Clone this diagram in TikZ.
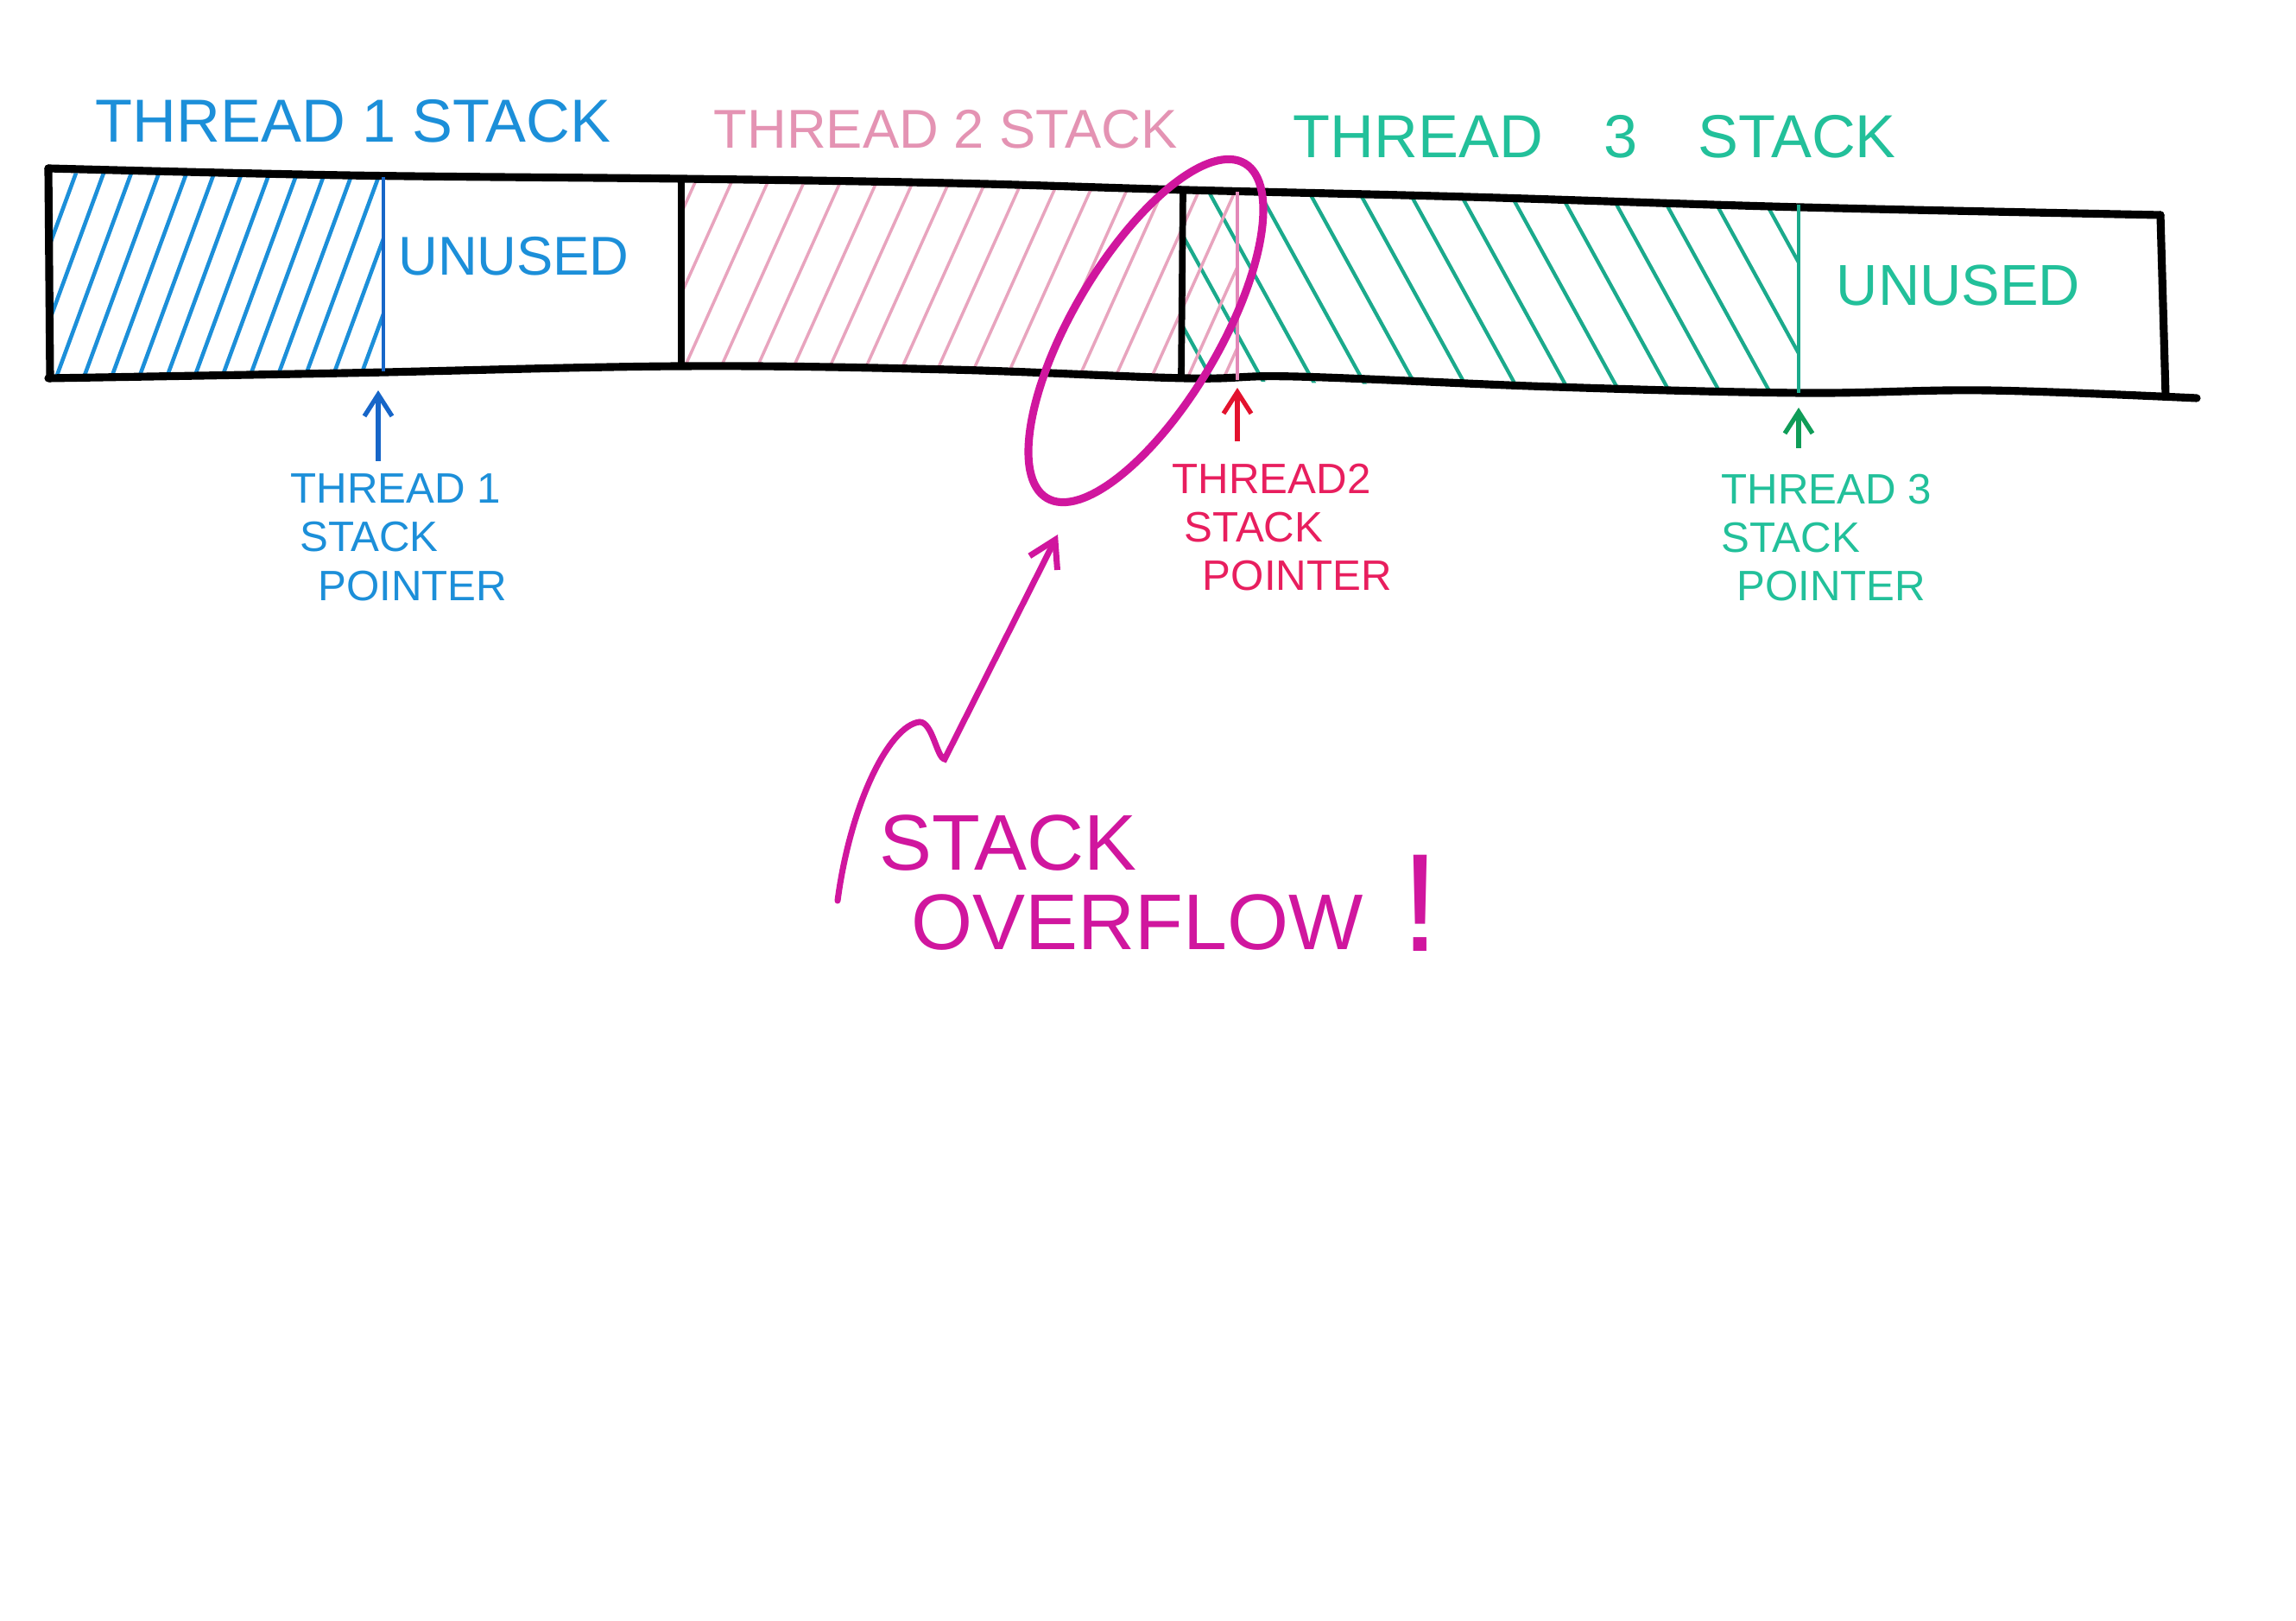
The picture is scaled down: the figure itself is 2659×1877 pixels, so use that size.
\documentclass[tikz,border=0pt]{standalone}
\usepackage{fontspec}
\setmainfont{Liberation Sans}
\usetikzlibrary{arrows.meta}
\definecolor{tblue}{HTML}{1C8FD9}
\definecolor{tbluedk}{HTML}{1766C8}
\definecolor{tpink}{HTML}{E8A4BE}
\definecolor{tpinktxt}{HTML}{E493B3}
\definecolor{tteal}{HTML}{1BAA8C}
\definecolor{ttealtxt}{HTML}{22C09A}
\definecolor{tred}{HTML}{E3122E}
\definecolor{tredtxt}{HTML}{E81E5E}
\definecolor{tgreen}{HTML}{0F9D58}
\definecolor{tmag}{HTML}{D0169E}
\begin{document}
\begin{tikzpicture}[x=0.01cm,y=-0.01cm,
  bar/.style={black, line width=2.6pt, line cap=round, line join=round},
  divider/.style={black, line width=2.2pt},
  ptr/.style={line width=1.5pt, -{Straight Barb[length=0.25cm,width=0.32cm]}},
  lbl/.style={inner sep=0pt, align=left, font=\fontsize{14}{16}\selectfont},
  ttl/.style={inner sep=0pt, anchor=west},
  big/.style={inner sep=0pt, anchor=base west, text=tmag, font=\fontsize{26}{26}\selectfont}]
\useasboundingbox (0,0) rectangle (2659,1877);
\fill[white] (0,0) rectangle (2659,1877);

% hatching: thread 1
\begin{scope}
\clip (60,200) -- (444,205) -- (444,432) -- (60,436) -- cycle;
\foreach \x in {0,32,...,480} \draw[tblue, line width=1.3pt] (\x,440) -- (\x+90,195);
\end{scope}
% hatching: thread 3
\begin{scope}
\clip (1372,220) -- (2083,237) -- (2083,456) -- (1372,440) -- cycle;
\foreach \x in {1280,1338,...,2083} \draw[tteal, line width=1.2pt] (\x,215) -- (\x+135,460);
\end{scope}
% hatching: thread 2 (overflowing)
\begin{scope}
\clip (792,208) -- (1433,222) -- (1433,440) -- (792,425) -- cycle;
\foreach \x in {700,742,...,1433} \draw[tpink, line width=1pt] (\x,445) -- (\x+110,200);
\end{scope}

% bar outline
\draw[bar] plot[smooth, tension=0.6] coordinates {(56,195) (400,203) (789,207) (1100,212) (1374,220) (1700,228) (2086,240) (2502,249)};
\draw[bar] plot[smooth, tension=0.6] coordinates {(56,438) (400,432) (789,424) (1100,428) (1374,438) (1500,436) (1800,448) (2086,455) (2300,452) (2544,461)};
\draw[bar] (56,195) -- (58,438);
\draw[bar] (2502,249) -- (2508,458);
\draw[divider] (789,207) -- (789,424);
\draw[divider] (1370,220) -- (1368,438);

% stack pointer lines
\draw[tbluedk, line width=1.2pt] (444,205) -- (444,430);
\draw[tteal, line width=1.2pt] (2083,237) -- (2083,455);
\draw[tpink!80!tmag, line width=1pt] (1433,222) -- (1433,440);

% titles
\node[ttl, text=tblue, font=\fontsize{20}{24}\selectfont] (title1) at (110,140) {THREAD 1 STACK};
\node[ttl, text=tpinktxt, font=\fontsize{18}{22}\selectfont] (title2) at (826,150) {THREAD 2 STACK};
\node[ttl, text=ttealtxt, font=\fontsize{20}{24}\selectfont] (title3) at (1497,158) {THREAD\quad 3\quad STACK};

% unused
\node[inner sep=0pt, text=tblue, font=\fontsize{18}{22}\selectfont] (unused1) at (595,297) {UNUSED};
\node[inner sep=0pt, text=ttealtxt, font=\fontsize{19}{22}\selectfont] (unused3) at (2268,331) {UNUSED};

% stack pointer labels
\node[lbl, anchor=north west, text=tblue] (sp1lab) at (336,548) {THREAD 1\\\hspace{3pt}STACK\\\hspace{9pt}POINTER};
\node[lbl, anchor=north west, text=tredtxt] (sp2lab) at (1357,536) {THREAD2\\\hspace{4pt}STACK\\\hspace{10pt}POINTER};
\node[lbl, anchor=north west, text=ttealtxt] (sp3lab) at (1993,548) {THREAD 3\\STACK\\\hspace{5pt}POINTER};

\coordinate (sp1) at (438,452);
\coordinate (sp2) at (1433,449);
\coordinate (sp3) at (2083,472);
\draw[ptr, tbluedk, shorten <=0.14cm] (sp1lab.north -| sp1) -- (sp1);
\draw[ptr, tred, shorten <=0.25cm] (sp2lab.north -| sp2) -- (sp2);
\draw[ptr, tgreen, shorten <=0.29cm] (sp3lab.north -| sp3) -- (sp3);

% overflow ellipse
\coordinate (ell) at (1327,383);
\draw[tmag, line width=2.6pt, rotate around={59.4:(ell)}] (ell) ellipse [x radius=2.25cm, y radius=0.85cm];

% overflow label
\node[big] (ovstack) at (1018,1008) {STACK};
\node[big] (ovword) at (1055,1100) {OVERFLOW};
\node[inner sep=0pt, anchor=base west, text=tmag, font=\fontsize{46}{46}\selectfont] (excl) at (1622,1102) {!};

\coordinate (ov0) at (970,1043);
\coordinate (ovtip) at (1225,619);
\draw[tmag, line width=2pt, line cap=round, -{Straight Barb[length=0.3cm,width=0.36cm]}]
  (ov0) .. controls (985,930) and (1030,840) .. (1065,836)
  .. controls (1080,836) and (1085,878) .. (1094,879) -- (ovtip);
\end{tikzpicture}
\end{document}
